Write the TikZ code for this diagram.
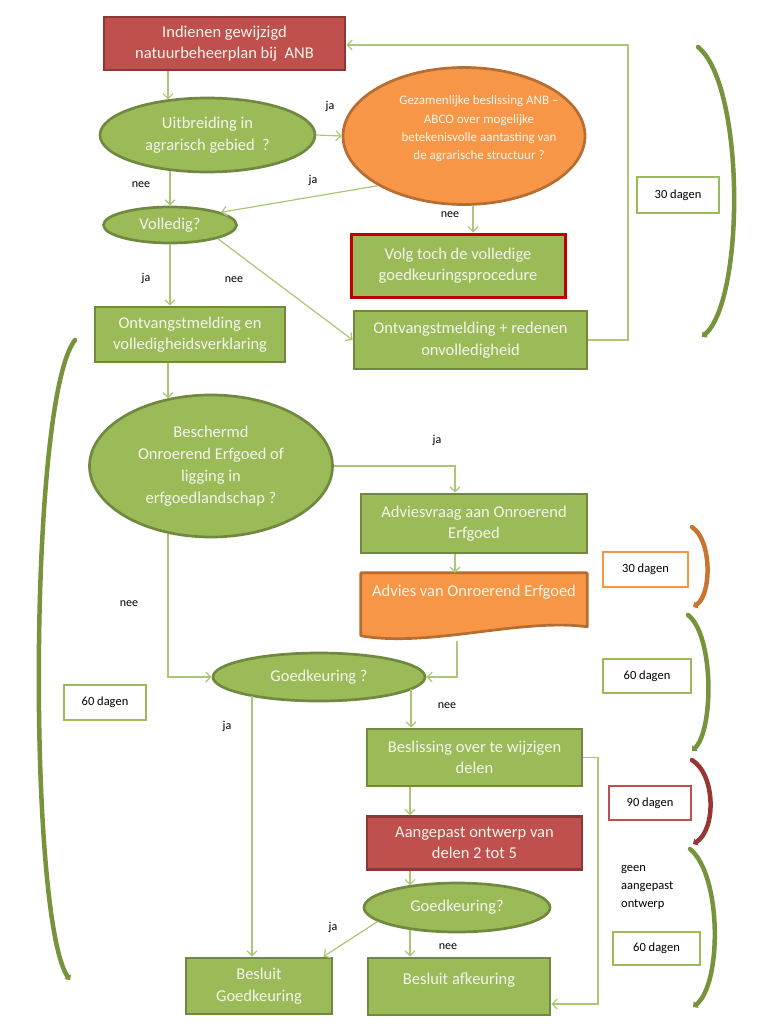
\documentclass[tikz,border=0pt]{standalone}
\usepackage{fontspec}
\setmainfont{Carlito}
\usetikzlibrary{shapes.geometric,arrows.meta,calc}
\definecolor{gfill}{HTML}{9BBB59}
\definecolor{gdraw}{HTML}{71893F}
\definecolor{rfill}{HTML}{C0504D}
\definecolor{rdraw}{HTML}{8C3836}
\definecolor{ofill}{HTML}{F79646}
\definecolor{odraw}{HTML}{B66D31}
\definecolor{conncol}{HTML}{A9C774}
\definecolor{brg}{HTML}{77933C}
\definecolor{bro}{HTML}{C87533}
\definecolor{brr}{HTML}{953735}
\definecolor{redline}{HTML}{C00000}
\definecolor{txt}{HTML}{F4F6EC}
\tikzset{
  base/.style={text=txt, font=\fontsize{16.5}{21.5}\selectfont, align=center, inner sep=2pt, line width=2.7pt},
  gbox/.style={base, rectangle, fill=gfill, draw=gdraw},
  rbox/.style={base, rectangle, fill=rfill, draw=rdraw},
  gell/.style={base, ellipse, fill=gfill, draw=gdraw},
  oell/.style={base, ellipse, fill=ofill, draw=odraw},
  arr/.style={draw=conncol, line width=1.2pt, -{Straight Barb[length=5pt,width=10pt]}},
  lbl/.style={font=\fontsize{12}{14}\selectfont, text=black, inner sep=0pt},
  tbox/.style={rectangle, fill=white, line width=2.5pt, text=black, font=\fontsize{12.5}{15}\selectfont, minimum height=34pt},
  brk/.style={line width=4.5pt, line cap=round, -{Triangle[length=4pt,width=8pt]}}
}
\begin{document}
\begin{tikzpicture}[x=1pt,y=-1pt]
\useasboundingbox (0,0) rectangle (768,1028);

% guide coordinates
\coordinate (x168) at (168,0);
\coordinate (x170) at (170,0);
\coordinate (x473) at (473,0);
\coordinate (x455) at (455,0);
\coordinate (x457) at (457,0);
\coordinate (x411) at (411,0);
\coordinate (x410) at (410,0);
\coordinate (x252) at (252,0);
\coordinate (r1) at (628,45);
\coordinate (r2) at (598,1004);

% shapes
\node[rbox, minimum width=241pt, minimum height=53pt] (n1) at (224.5,43.5) {Indienen gewijzigd\\natuurbeheerplan bij ~ANB};
\node[gell, minimum width=215pt, minimum height=74pt] (e1) at (207.5,135) {Uitbreiding in\\agrarisch gebied ~?};
\node[oell, minimum width=242pt, minimum height=137pt] (e2) at (464,136) {};
\node[base, font=\fontsize{13}{18.3}\selectfont] (e2t) at (479,129) {Gezamenlijke beslissing ANB –\\ABCO over mogelijke\\betekenisvolle aantasting van\\de agrarische structuur ?};
\node[gell, minimum width=133pt, minimum height=36pt] (e3) at (170,225) {Volledig?};
\node[base, rectangle, fill=gfill, draw=redline, line width=3pt, minimum width=214pt, minimum height=63pt] (n2) at (458,265.5) {Volg toch de volledige\\goedkeuringsprocedure};
\node[gbox, minimum width=190pt, minimum height=55pt] (n3) at (190,334.5) {Ontvangstmelding en\\volledigheidsverklaring};
\node[gbox, minimum width=233pt, minimum height=58pt] (n4) at (470.5,340) {Ontvangstmelding + redenen\\onvolledigheid};
\node[gell, minimum width=243pt, minimum height=142pt, font=\fontsize{16.5}{22}\selectfont] (e4) at (211,466) {Beschermd\\Onroerend Erfgoed of\\ligging in\\erfgoedlandschap ?};
\node[gbox, minimum width=226pt, minimum height=59pt] (n5) at (474,523.5) {Adviesvraag aan Onroerend\\Erfgoed};
\node[rectangle, minimum width=226pt, minimum height=65pt, inner sep=0pt] (n6) at (474,605.5) {};
\draw[fill=ofill, draw=odraw, line width=2.7pt, line join=round] (n6.north west) -- (n6.north east) -- ($(n6.north east)+(0,54)$) .. controls ($(n6.north east)+(-67,45)$) and ($(n6.north east)+(-157,75)$) .. ($(n6.north west)+(0,63)$) -- cycle;
\node[base] (n6t) at (474,592) {Advies van Onroerend Erfgoed};
\node[gell, minimum width=212pt, minimum height=48pt] (e5) at (319,677) {Goedkeuring ?};
\node[gbox, minimum width=215pt, minimum height=57pt] (n7) at (474.5,757.5) {Beslissing over te wijzigen\\delen};
\node[rbox, minimum width=215pt, minimum height=53pt] (n8) at (474.5,843) {Aangepast ontwerp van\\delen 2 tot 5};
\node[gell, minimum width=186pt, minimum height=49pt] (e6) at (457,907.5) {Goedkeuring?};
\node[gbox, minimum width=146pt, minimum height=56pt] (n9) at (259,986) {Besluit\\Goedkeuring};
\node[gbox, minimum width=182pt, minimum height=57pt] (n10) at (459,986.5) {};
\node[base] (n10t) at (459,980) {Besluit afkeuring};

% time boxes
\node[tbox, draw=gfill, minimum width=82pt, minimum height=36pt] (t1) at (678,195) {30 dagen};
\node[tbox, draw=ofill, minimum width=85pt, minimum height=35pt] (t2) at (645.5,569.5) {30 dagen};
\node[tbox, draw=gfill, minimum width=88pt] (t3) at (647,676) {60 dagen};
\node[tbox, draw=rfill, minimum width=82pt] (t4) at (650,803) {90 dagen};
\node[tbox, draw=gfill, minimum width=87pt, minimum height=33pt] (t5) at (656.5,948.5) {60 dagen};
\node[tbox, draw=gfill, minimum width=82pt, minimum height=35pt] (t6) at (105,702.5) {60 dagen};
\node[lbl, align=left, anchor=north west, font=\fontsize{12.5}{18}\selectfont] (geen) at (621,865) {geen\\aangepast\\ontwerp};

% connectors
\draw[arr] (n4.east) -| (r1) -- (r1 -| n1.east);
\draw[arr] (n1.south -| x168) -- (x168 |- e1.139);
\draw[arr] (e1.east) -- (e2.west);
\draw[arr] (x170 |- e1.223) -- (e3.north);
\draw[arr] (e2.210) -- (e3.14);
\draw[arr] (x473 |- e2.-82.5) -- (n2.north -| x473);
\draw[arr] (e3.south) -- (n3.north -| e3.south);
\draw[arr] (e3.-16.5) -- (n4.west);
\draw[arr] (n3.south -| x168) -- (x168 |- e4.123);
\draw[arr] (e4.east) -| (n5.north -| x455);
\draw[arr] (x168 |- e4.237) |- (e5.west);
\draw[arr] (n5.south -| x455) -- (n6.north -| x455);
\draw[arr] ($(n6.south -| x457)+(0,3)$) |- (e5.east);
\draw[arr] (x411 |- e5.-7.4) -- (n7.north -| x411);
\draw[arr] (x252 |- e5.195.5) -- (n9.north -| x252);
\draw[arr] (n7.south -| x410) -- (n8.north -| x410);
\draw[arr] (n8.south -| x410) -- (x410 |- e6.155);
\draw[arr] (x410 |- e6.205) -- (n10.north -| x410);
\draw[arr] (e6.190) -- ($(n9.north east)+(-10,0)$);
\draw[arr] (n7.east) -| (r2) -- (r2 -| n10.east);

% connector labels
\node[lbl] (l1) at (330,106) {ja};
\node[lbl] (l2) at (141,185) {nee};
\node[lbl] (l3) at (313,180) {ja};
\node[lbl] (l4) at (450,215) {nee};
\node[lbl] (l5) at (146,278) {ja};
\node[lbl] (l6) at (234,280) {nee};
\node[lbl] (l7) at (437,440) {ja};
\node[lbl] (l8) at (129,604) {nee};
\node[lbl] (l9) at (227,726) {ja};
\node[lbl] (l10) at (447,706) {nee};
\node[lbl] (l11) at (333,927) {ja};
\node[lbl] (l12) at (448,947) {nee};

% brackets
\draw[brk, brg] (698,47) .. controls (745,85) and (745,300) .. (702,337);
\draw[brk, brg] (75,340) .. controls (28,400) and (28,920) .. (70,980);
\draw[brk, bro] (692,527) .. controls (712,540) and (712,595) .. (693,607);
\draw[brk, brg] (688,615) .. controls (714,635) and (714,730) .. (692,751);
\draw[brk, brr] (692,760) .. controls (716,775) and (716,830) .. (693,844);
\draw[brk, brg] (690,849) .. controls (722,875) and (722,985) .. (693,1007);
\end{tikzpicture}
\end{document}
